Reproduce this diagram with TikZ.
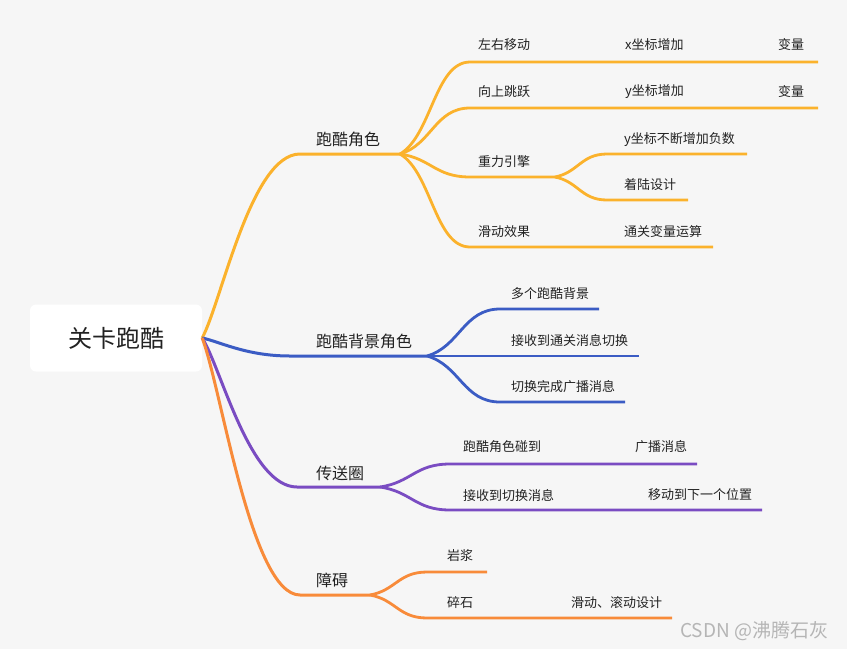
\documentclass[tikz,border=0pt]{standalone}
\usepackage{fontspec}
\setmainfont{Noto Sans CJK SC}
\usetikzlibrary{calc}
\definecolor{bg}{HTML}{F6F6F6}
\definecolor{ink}{HTML}{222222}
\definecolor{gold}{HTML}{FBB22C}
\definecolor{sky}{HTML}{3B5CC4}
\definecolor{plum}{HTML}{7A4CC2}
\definecolor{amber}{HTML}{F88B3A}
\definecolor{mark}{HTML}{B5B5B5}
\tikzset{
  link/.style={to path={let \p1=(\tikztostart), \p2=(\tikztotarget) in
    .. controls ({\x1+#1*(\x2-\x1)},{\y1+0.2*(\y2-\y1)}) and ({0.5*(\x1+\x2)},\y2) .. (\tikztotarget)}},
  link/.default=0.45,
  trunk/.style={line width=3pt},
  twig/.style={line width=2.8pt},
  rootbox/.style={fill=white, rounded corners=6pt, minimum width=172pt, minimum height=67pt,
    inner sep=0pt, text=ink, font=\fontsize{24}{28}\selectfont},
  maintext/.style={anchor=west, inner sep=0pt, text=ink, font=\fontsize{16}{19}\selectfont},
  subtext/.style={anchor=west, inner sep=0pt, text=ink, font=\fontsize{13}{16}\selectfont}
}
\begin{document}
\begin{tikzpicture}[x=1pt,y=-1pt]
    \fill[bg] (0,0) rectangle (847,649);
    \node[rootbox] (root) at (116,338) {关卡跑酷};

    % 跑酷角色
    \coordinate (a1) at (300,154);
    \coordinate (j1) at (400,154);
    \coordinate (b11) at (470,62);   \coordinate (e11) at (818,62);
    \coordinate (b12) at (470,108);  \coordinate (e12) at (818,108);
    \coordinate (b13) at (470,177);  \coordinate (j13) at (555,177);
    \coordinate (b131) at (607,154); \coordinate (e131) at (747,154);
    \coordinate (b132) at (607,200); \coordinate (e132) at (688,200);
    \coordinate (b14) at (470,247);  \coordinate (e14) at (713,247);
    \draw[gold,trunk] (root.east) to[link=0.2] (a1) -- (j1);
    \draw[gold,twig] (j1) to[link] (b11) -- (e11);
    \draw[gold,twig] (j1) to[link] (b12) -- (e12);
    \draw[gold,twig] (j1) to[link] (b13) -- (j13);
    \draw[gold,twig] (j13) to[link] (b131) -- (e131);
    \draw[gold,twig] (j13) to[link] (b132) -- (e132);
    \draw[gold,twig] (j1) to[link] (b14) -- (e14);
    \node[maintext] (t1) at (316,139) {跑酷角色};
    \node[subtext] (t11) at (478,45) {左右移动};
    \node[subtext] (t11x) at (625,45) {x坐标增加};
    \node[subtext] (t11v) at (778,45) {变量};
    \node[subtext] (t12) at (478,92) {向上跳跃};
    \node[subtext] (t12y) at (625,92) {y坐标增加};
    \node[subtext] (t12v) at (778,92) {变量};
    \node[subtext] (t13) at (478,162) {重力引擎};
    \node[subtext] (t131) at (624,140) {y坐标不断增加负数};
    \node[subtext] (t132) at (624,185) {着陆设计};
    \node[subtext] (t14) at (478,232) {滑动效果};
    \node[subtext] (t14c) at (624,232) {通关变量运算};

    % 跑酷背景角色
    \coordinate (a2) at (290,356);
    \coordinate (j2) at (427,356);
    \coordinate (b21) at (500,309); \coordinate (e21) at (599,309);
    \coordinate (e22) at (639,356);
    \coordinate (b23) at (500,402); \coordinate (e23) at (625,402);
    \draw[sky,trunk] (root.east) to[link=0.2] (a2) -- (j2);
    \draw[sky,twig] (j2) to[link] (b21) -- (e21);
    \draw[sky,twig] (j2) -- (e22);
    \draw[sky,twig] (j2) to[link] (b23) -- (e23);
    \node[maintext] (t2) at (316,341) {跑酷背景角色};
    \node[subtext] (t21) at (511,294) {多个跑酷背景};
    \node[subtext] (t22) at (511,341) {接收到通关消息切换};
    \node[subtext] (t23) at (511,387) {切换完成广播消息};

    % 传送圈
    \coordinate (a3) at (297,487);
    \coordinate (j3) at (380,487);
    \coordinate (b31) at (450,464); \coordinate (e31) at (697,464);
    \coordinate (b32) at (450,510); \coordinate (e32) at (762,510);
    \draw[plum,trunk] (root.east) to[link=0.2] (a3) -- (j3);
    \draw[plum,twig] (j3) to[link] (b31) -- (e31);
    \draw[plum,twig] (j3) to[link] (b32) -- (e32);
    \node[maintext] (t3) at (316,473) {传送圈};
    \node[subtext] (t31) at (463,447) {跑酷角色碰到};
    \node[subtext] (t31b) at (635,447) {广播消息};
    \node[subtext] (t32) at (463,495) {接收到切换消息};
    \node[subtext] (t32m) at (648,495) {移动到下一个位置};

    % 障碍
    \coordinate (a4) at (300,595);
    \coordinate (j4) at (370,595);
    \coordinate (b41) at (427,572); \coordinate (e41) at (487,572);
    \coordinate (b42) at (427,618); \coordinate (e42) at (672,618);
    \draw[amber,trunk] (root.east) to[link=0.2] (a4) -- (j4);
    \draw[amber,twig] (j4) to[link] (b41) -- (e41);
    \draw[amber,twig] (j4) to[link] (b42) -- (e42);
    \node[maintext] (t4) at (316,580) {障碍};
    \node[subtext] (t41) at (447,556) {岩浆};
    \node[subtext] (t42) at (447,603) {碎石};
    \node[subtext] (t42s) at (571,603) {滑动、滚动设计};

    \node[anchor=west, inner sep=0pt, text=mark, font=\fontsize{19}{22}\selectfont] (wm) at (680,631) {CSDN @沸腾石灰};
\end{tikzpicture}
\end{document}
